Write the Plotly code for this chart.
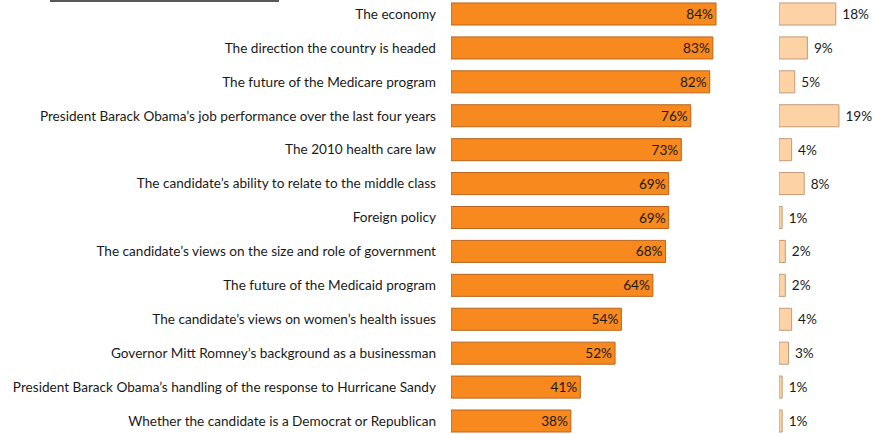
import plotly.graph_objects as go

categories = [
    "The economy",
    "The direction the country is headed",
    "The future of the Medicare program",
    "President Barack Obama\u2019s job performance over the last four years",
    "The 2010 health care law",
    "The candidate\u2019s ability to relate to the middle class",
    "Foreign policy",
    "The candidate\u2019s views on the size and role of government",
    "The future of the Medicaid program",
    "The candidate\u2019s views on women\u2019s health issues",
    "Governor Mitt Romney\u2019s background as a businessman",
    "President Barack Obama\u2019s handling of the response to Hurricane Sandy",
    "Whether the candidate is a Democrat or Republican",
]
important = [84, 83, 82, 76, 73, 69, 69, 68, 64, 54, 52, 41, 38]
most_important = [18, 9, 5, 19, 4, 8, 1, 2, 2, 4, 3, 1, 1]

W, H = 874, 434
PX = 3.155  # px per percent
L0, L1 = 451, 760
R0, R1 = 779, 874
FONT = "Lato"
FS = 13.6

fig = go.Figure()
fig.add_trace(go.Bar(
    y=categories, x=important, orientation="h",
    marker=dict(color="#F7891E", line=dict(color="#B8651C", width=1)),
    text=[f"{v}%" for v in important], textposition="inside",
    insidetextanchor="end", textfont=dict(family=FONT, size=FS, color="#1a1a1a"),
    width=0.65, xaxis="x", yaxis="y", showlegend=False,
))
fig.add_trace(go.Bar(
    y=categories, x=most_important, orientation="h",
    marker=dict(color="#FDD3A6", line=dict(color="#C49A78", width=1)),
    text=[f" {v}%" for v in most_important], textposition="outside",
    textfont=dict(family=FONT, size=FS, color="#1a1a1a"),
    width=0.65, xaxis="x2", yaxis="y2", showlegend=False, cliponaxis=False,
))

yrange = [12.383, -0.413]
fig.update_layout(
    width=W, height=H, margin=dict(l=0, r=0, t=0, b=0),
    plot_bgcolor="white", paper_bgcolor="white",
    font=dict(family=FONT, size=FS, color="#1a1a1a"),
    xaxis=dict(domain=[L0 / W, L1 / W], range=[0, (L1 - L0) / PX], visible=False, fixedrange=True),
    xaxis2=dict(domain=[R0 / W, R1 / W], range=[0, (R1 - R0) / PX], visible=False, fixedrange=True),
    yaxis=dict(range=yrange, categoryorder="array", categoryarray=categories,
               showgrid=False, zeroline=False, showline=False, ticks="",
               ticklabelstandoff=14, tickfont=dict(family=FONT, size=FS, color="#1a1a1a"),
               anchor="x"),
    yaxis2=dict(range=yrange, categoryorder="array", categoryarray=categories,
                showgrid=False, zeroline=False, showline=False, showticklabels=False,
                anchor="x2", overlaying="y"),
    bargap=0.35,
    uniformtext=dict(mode=False),
)
fig.add_shape(type="line", xref="paper", yref="paper",
              x0=50 / W, x1=279 / W, y0=1 - 1 / H, y1=1 - 1 / H,
              line=dict(color="#222222", width=1.5))

fig.write_html("out.html", config={"displayModeBar": False},
               post_script="document.body.style.margin='0px';document.body.style.overflow='hidden';")
